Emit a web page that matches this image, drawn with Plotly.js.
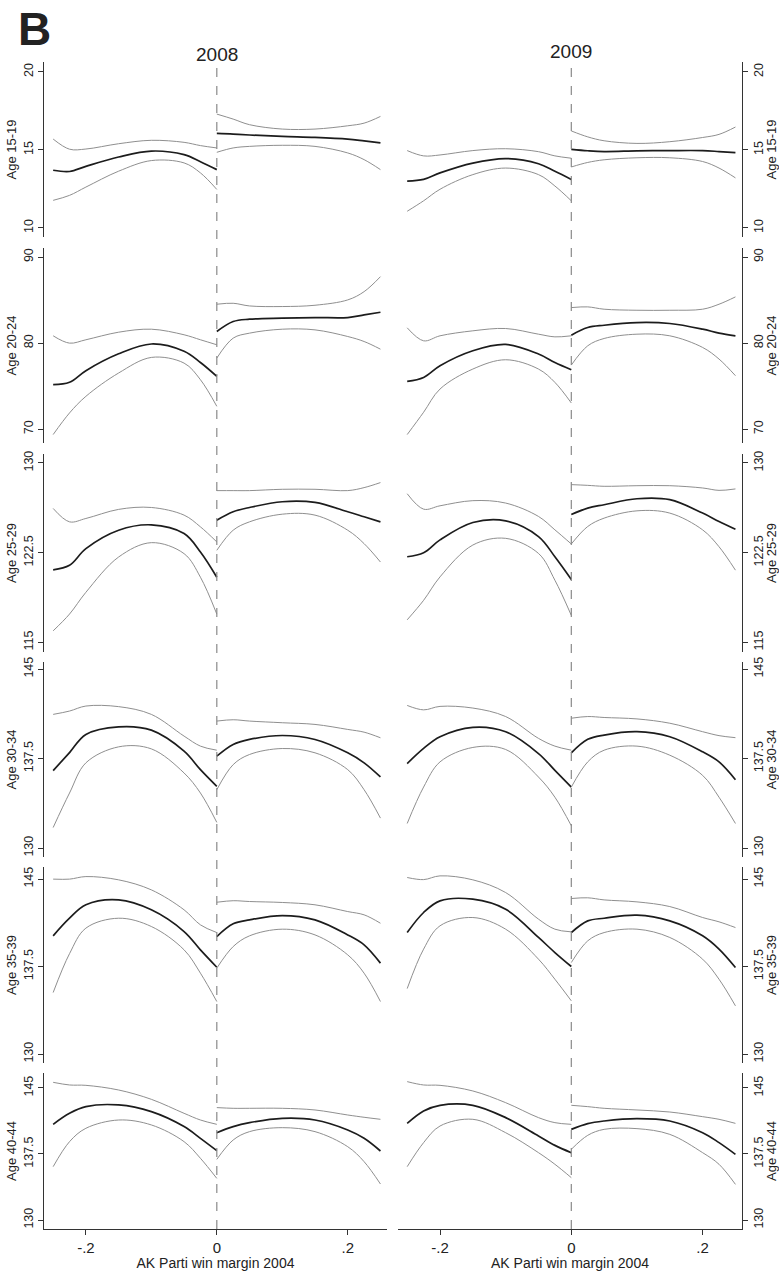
<!DOCTYPE html>
<html>
<head>
<meta charset="utf-8">
<script src="https://cdn.plot.ly/plotly-3.0.1.min.js"></script>
<style>html,body{margin:0;padding:0;background:#fff;}#chart{width:779px;height:1271px;}</style>
</head>
<body>
<div id="chart"></div>
<script>
// ---------------- DATA ----------------
const ages = ['Age 15-19','Age 20-24','Age 25-29','Age 30-34','Age 35-39','Age 40-44'];
const years = ['2008','2009'];
const xLeft  = [-0.25,-0.225,-0.2,-0.15,-0.1,-0.05,-0.025,0];
const xRight = [0,0.025,0.05,0.1,0.15,0.2,0.225,0.25];
const xTickVals = [-0.2,0,0.2];
const xTickText = ['-.2','0','.2'];
const yTickVals = [[10,15,20],[70,80,90],[115,122.5,130],[130,137.5,145],[130,137.5,145],[130,137.5,145]];
const yTickText = [['10','15','20'],['70','80','90'],['115','122.5','130'],['130','137.5','145'],['130','137.5','145'],['130','137.5','145']];

// 2008, left of cutoff
const mid08L = [
 [13.70,13.62,13.95,14.55,14.93,14.70,14.25,13.74],
 [75.17,75.45,76.80,78.76,79.90,79.05,77.75,76.14],
 [121.07,121.45,122.84,124.38,124.83,124.10,122.56,120.45],
 [136.49,138.00,139.52,140.16,139.88,138.12,136.57,135.17],
 [140.13,141.64,142.79,143.21,142.36,140.50,138.93,137.44],
 [140.87,142.12,142.88,143.07,142.31,140.61,139.28,137.88]
];
const hi08L = [
 [15.70,15.05,15.06,15.40,15.62,15.49,15.28,15.13],
 [80.85,80.00,80.39,81.27,81.62,80.97,80.39,79.81],
 [126.20,125.08,125.36,126.12,126.28,125.64,124.66,123.40],
 [141.20,141.48,141.90,141.85,141.20,139.38,138.54,138.20],
 [144.99,144.99,145.21,144.93,144.07,142.36,141.07,140.41],
 [145.64,145.34,145.30,144.77,143.71,142.12,141.36,140.87]
];
const lo08L = [
 [11.77,12.09,12.62,13.64,14.32,14.17,13.53,12.47],
 [69.38,71.89,73.82,76.53,78.34,77.68,75.75,72.66],
 [115.97,117.37,119.19,122.14,123.34,122.42,120.45,117.37],
 [131.72,134.61,137.14,138.48,138.31,136.29,134.61,132.15],
 [135.27,138.60,140.79,141.64,140.93,138.93,136.93,134.50],
 [136.06,138.90,140.42,141.36,140.80,138.90,137.01,134.73]
];
// 2008, right of cutoff
const mid08R = [
 [16.06,16.02,15.96,15.87,15.81,15.70,15.58,15.45],
 [81.35,82.51,82.78,82.90,82.97,82.97,83.28,83.59],
 [125.22,125.92,126.28,126.76,126.70,125.92,125.50,125.08],
 [137.70,138.68,139.10,139.43,139.10,137.98,137.14,135.96],
 [140.07,141.16,141.50,141.87,141.50,140.21,139.36,137.79],
 [139.92,140.61,141.06,141.55,141.36,140.23,139.28,137.84]
];
const hi08R = [
 [17.30,16.98,16.62,16.34,16.34,16.55,16.72,17.15],
 [84.52,84.63,84.32,84.25,84.40,85.02,85.98,87.72],
 [127.69,127.69,127.69,127.80,127.80,127.69,127.94,128.36],
 [140.64,140.75,140.64,140.50,140.36,139.94,139.71,139.24],
 [143.01,143.14,143.07,142.99,142.79,142.21,141.93,141.21],
 [142.77,142.69,142.69,142.69,142.50,141.93,141.67,141.44]
];
const lo08R = [
 [14.85,15.13,15.23,15.30,15.23,14.81,14.38,13.74],
 [78.26,80.58,81.16,81.62,81.54,80.77,80.19,79.30],
 [122.70,124.38,125.08,125.72,125.64,124.38,123.26,121.72],
 [134.89,136.99,137.84,138.34,137.98,136.57,134.89,132.51],
 [137.36,139.21,140.13,140.70,140.21,138.50,136.93,134.50],
 [136.89,139.09,140.04,140.49,140.04,138.33,136.63,134.09]
];
// 2009, left of cutoff
const mid09L = [
 [13.00,13.11,13.53,14.16,14.45,14.12,13.63,13.11],
 [75.56,76.02,77.37,79.11,79.85,78.73,77.76,76.91],
 [122.16,122.50,123.57,125.02,125.16,123.85,122.16,120.26],
 [137.08,138.35,139.33,140.12,139.75,137.92,136.51,135.11],
 [140.41,142.13,143.13,143.27,142.41,139.99,138.70,137.50],
 [140.98,142.39,143.03,143.03,141.63,139.55,138.48,137.65]
];
const hi09L = [
 [14.96,14.62,14.68,14.96,15.08,14.89,14.62,14.47],
 [81.78,80.27,80.85,81.43,81.70,81.04,80.73,80.85],
 [127.43,126.14,126.42,126.85,126.65,125.53,124.41,123.23],
 [141.95,141.58,141.87,141.73,141.02,139.19,138.54,138.20],
 [145.13,144.95,145.27,144.93,143.84,141.56,140.70,140.47],
 [145.72,145.34,145.30,144.66,143.33,141.63,141.06,140.87]
];
const lo09L = [
 [11.07,11.74,12.48,13.42,13.84,13.42,12.69,11.74],
 [69.38,71.97,74.67,76.99,78.07,76.99,75.44,73.05],
 [116.89,118.52,120.48,123.14,123.70,122.44,120.20,117.26],
 [132.06,135.11,137.22,138.43,138.26,135.95,134.26,131.87],
 [135.61,138.99,140.99,141.70,140.70,138.13,136.41,134.56],
 [136.06,138.79,140.68,141.44,139.92,137.65,136.33,134.81]
];
// 2009, right of cutoff
const mid09R = [
 [15.04,14.95,14.90,14.94,14.96,14.96,14.90,14.83],
 [80.93,81.81,82.08,82.39,82.28,81.62,81.16,80.85],
 [125.70,126.23,126.51,127.01,126.93,125.81,125.11,124.46],
 [137.98,139.11,139.47,139.75,139.33,138.06,137.22,135.73],
 [140.41,141.41,141.64,141.90,141.41,140.13,138.99,137.41],
 [140.30,140.95,141.25,141.52,141.25,139.92,138.79,137.46]
];
const hi09R = [
 [16.22,15.84,15.59,15.42,15.53,15.80,16.00,16.47],
 [84.13,84.21,83.94,83.82,83.82,83.94,84.52,85.37],
 [128.19,128.13,128.05,128.10,128.10,127.91,127.71,127.83],
 [140.88,141.02,140.94,140.82,140.46,139.75,139.42,139.25],
 [143.33,143.39,143.21,143.04,142.64,141.70,141.33,140.84],
 [143.03,142.88,142.69,142.50,142.27,141.74,141.44,140.98]
];
const lo09R = [
 [13.91,14.20,14.37,14.50,14.50,14.26,13.84,13.21],
 [77.45,79.69,80.54,81.04,80.85,79.50,78.15,76.22],
 [123.23,124.69,125.39,126.00,125.81,124.41,123.00,121.04],
 [135.11,137.22,138.20,138.54,137.78,136.09,134.26,132.06],
 [137.84,139.70,140.41,140.70,139.99,138.13,136.41,134.13],
 [138.03,139.62,140.30,140.38,139.73,137.65,136.33,134.05]
];

// ---------------- LAYOUT ----------------
const W = 779, H = 1271;
const colPx = [[44,387],[398,742]];
const rowPx = [[62,237],[248,443],[454,652],[662,857],[867,1063],[1073,1229]];
const yRanges = [[9.42,20.64],[68.4,91.05],[114.2,130.75],[129.25,145.59],[129.23,146.03],[128.98,146.7]];
const xRange = [-0.264,0.26];

const FONT = 'Liberation Sans, Arial, sans-serif';
const AXC = '#333333';
const MIDC = '#1c1c1c', CIC = '#8f8f8f';

const groups = [
  {mid:[mid08L,mid08R], hi:[hi08L,hi08R], lo:[lo08L,lo08R]},
  {mid:[mid09L,mid09R], hi:[hi09L,hi09R], lo:[lo09L,lo09R]}
];

const traces = [];
const layout = {
  width: W, height: H,
  margin: {l:0,r:0,t:0,b:0},
  paper_bgcolor:'#fff', plot_bgcolor:'#fff',
  showlegend:false,
  font:{family:FONT, color:'#222'},
  shapes:[], annotations:[]
};

for (let c=0;c<2;c++){
  const xa = c===0?'x':'x2';
  const xkey = c===0?'xaxis':'xaxis2';
  const bottomN = c*6+6;
  layout[xkey] = {
    domain:[colPx[c][0]/W, colPx[c][1]/W],
    range:xRange, anchor:'y'+bottomN,
    tickvals:xTickVals, ticktext:xTickText,
    ticks:'outside', ticklen:5, tickcolor:AXC, tickwidth:1,
    showline:true, linecolor:AXC, linewidth:1,
    showgrid:false, zeroline:false,
    tickfont:{size:15, family:FONT, color:'#222'},
    title:{text:'AK Parti win margin 2004', font:{size:14, family:FONT, color:'#222'}, standoff:4}
  };
  for (let i=0;i<6;i++){
    const n = c*6+i+1;
    const ya = n===1?'y':'y'+n;
    const ykey = n===1?'yaxis':'yaxis'+n;
    layout[ykey] = {
      domain:[1-rowPx[i][1]/H, 1-rowPx[i][0]/H],
      range:yRanges[i], anchor:xa, side:c===0?'left':'right',
      tickvals:yTickVals[i], ticktext:yTickText[i], tickangle:-90,
      ticks:'outside', ticklen:5, tickcolor:AXC, tickwidth:1,
      showline:true, linecolor:AXC, linewidth:1,
      showgrid:false, zeroline:false,
      tickfont:{size:12.5, family:FONT, color:'#222'},
      title:{text:ages[i], font:{size:13, family:FONT, color:'#222'}, standoff:2}
    };
    const g = groups[c];
    for (let s=0;s<2;s++){
      const xs = s===0?xLeft:xRight;
      [['hi',CIC,1],['lo',CIC,1],['mid',MIDC,1.7]].forEach(([k,col,w])=>{
        traces.push({
          x:xs, y:g[k][s][i], xaxis:xa, yaxis:ya, type:'scatter', mode:'lines',
          line:{color:col, width:w, shape:'spline', smoothing:1}, hoverinfo:'skip'
        });
      });
    }
  }
  // dashed cutoff line across the column
  layout.shapes.push({
    type:'line', xref:xa, yref:'paper', x0:0, x1:0,
    y0:1-rowPx[5][1]/H, y1:1-rowPx[0][0]/H,
    line:{color:'#8a8a8a', width:1.2, dash:'dash'}
  });
  layout.annotations.push({
    text:years[c], xref:'paper', yref:'paper',
    x:(c===0?217:571)/W, y:1-(c===0?55:52)/H, xanchor:'center', yanchor:'middle',
    showarrow:false, font:{size:19, family:FONT, color:'#222'}
  });
}
layout.annotations.push({
  text:'<b>B</b>', xref:'paper', yref:'paper', x:16/W, y:1-29/H,
  xanchor:'left', yanchor:'middle', showarrow:false,
  font:{size:46, family:FONT, color:'#222'}
});

Plotly.newPlot('chart', traces, layout, {staticPlot:true, displayModeBar:false});
</script>
</body>
</html>
